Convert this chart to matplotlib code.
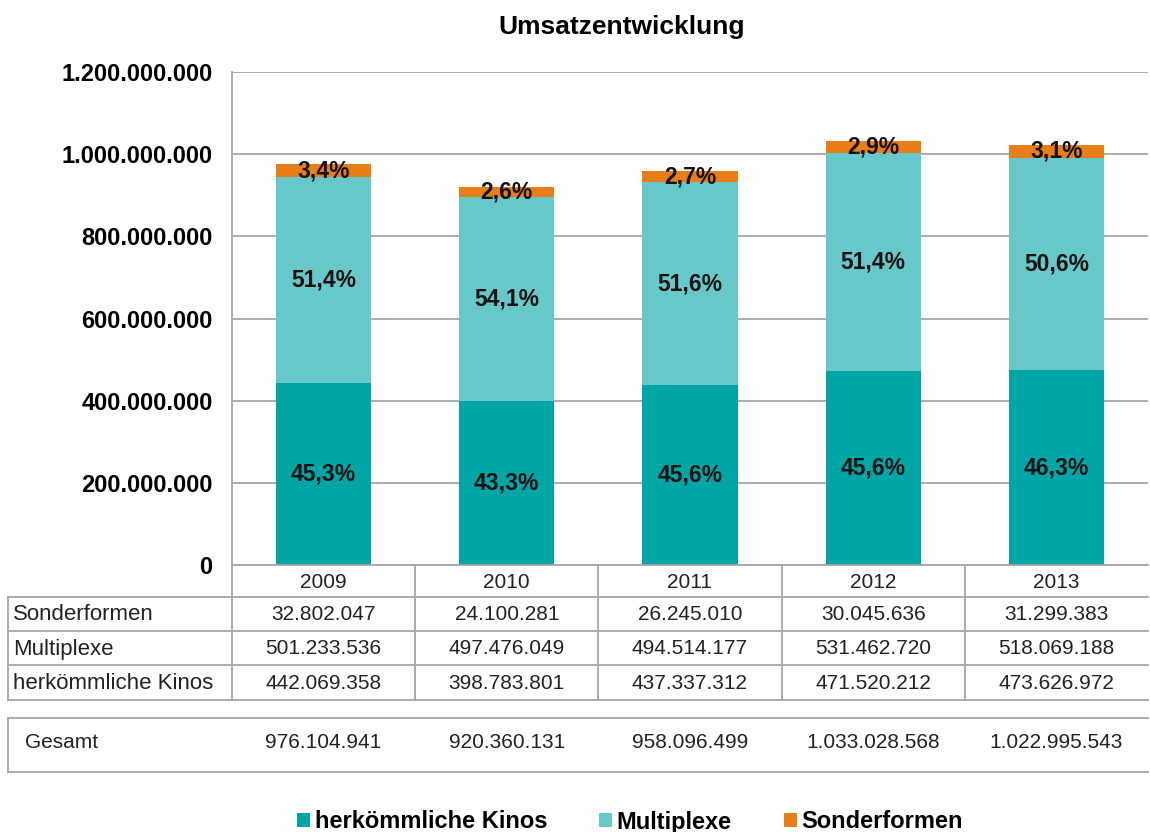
import numpy as np
import matplotlib
matplotlib.use("Agg")
import matplotlib.pyplot as plt
from matplotlib.lines import Line2D

plt.rcParams['font.family'] = ['Liberation Sans', 'DejaVu Sans']

years = ["2009", "2010", "2011", "2012", "2013"]
kinos = [442069358, 398783801, 437337312, 471520212, 473626972]
multiplexe = [501233536, 497476049, 494514177, 531462720, 518069188]
sonderformen = [32802047, 24100281, 26245010, 30045636, 31299383]
gesamt = [976104941, 920360131, 958096499, 1033028568, 1022995543]

series_names = ["herkömmliche Kinos", "Multiplexe", "Sonderformen"]
colors = ["#00A5A5", "#66C8C8", "#E97E17"]


def de_num(v):
    return "{:,.0f}".format(v).replace(",", ".")


def de_pct(v):
    return "{:.1f}%".format(v * 100).replace(".", ",")


W, H = 1150, 832
fig = plt.figure(figsize=(W / 100, H / 100), dpi=100)

# plot area in pixels
left, right, top, bottom = 232, 1148, 72, 565
ax = fig.add_axes([left / W, 1 - bottom / H, (right - left) / W, (bottom - top) / H])

x = np.arange(len(years))
kinos = np.array(kinos)
multiplexe = np.array(multiplexe)
sonderformen = np.array(sonderformen)
total = kinos + multiplexe + sonderformen

bars = []
base = np.zeros(len(years))
for vals, c in zip([kinos, multiplexe, sonderformen], colors):
    b = ax.bar(x, vals, bottom=base, width=0.52, color=c, edgecolor="none", zorder=2)
    bars.append(b)
    for xi, v, b0, t in zip(x, vals, base, total):
        ax.text(xi, b0 + v / 2, de_pct(v / t), ha="center", va="center",
                fontsize=16.5, fontweight="bold", color="#111111", zorder=3)
    base = base + vals

ax.set_xlim(-0.5, len(years) - 0.5)
ax.set_ylim(0, 1200000000)
ax.set_yticks(np.arange(0, 1200000001, 200000000))
ax.set_yticklabels([de_num(v) for v in ax.get_yticks()], fontsize=17, fontweight="bold")
ax.tick_params(axis="y", length=0, pad=14)
ax.set_xticks([])
ax.grid(axis="y", color="#A6A6A6", linewidth=1.3, zorder=0)
for s in ["top", "right", "bottom"]:
    ax.spines[s].set_visible(False)
ax.spines["left"].set_color("#A6A6A6")
ax.spines["left"].set_linewidth(1.3)

fig.text(622 / W, 1 - 27 / H, "Umsatzentwicklung", ha="center", va="center",
         fontsize=19, fontweight="bold")

# data table below the chart, pixel coordinates
tab = fig.add_axes([0, 0, 1, 1])
tab.set_xlim(0, W)
tab.set_ylim(H, 0)
tab.axis("off")
tab.patch.set_alpha(0)

lc = "#A6A6A6"
lw = 1.3
fs = 15
colw = (right - left) / len(years)
row_y = [565, 597, 631, 665, 700]
label_x0 = 8

# horizontal lines
tab.add_line(Line2D([left, right], [row_y[0], row_y[0]], color=lc, lw=lw))
for y in row_y[1:]:
    tab.add_line(Line2D([label_x0, right], [y, y], color=lc, lw=lw))
# vertical lines
tab.add_line(Line2D([label_x0, label_x0], [row_y[1], row_y[-1]], color=lc, lw=lw))
for i in range(len(years)):
    xe = left + i * colw
    tab.add_line(Line2D([xe, xe], [row_y[0], row_y[-1]], color=lc, lw=lw))

rows = [("Sonderformen", sonderformen), ("Multiplexe", multiplexe),
        ("herkömmliche Kinos", kinos)]
for i, yr in enumerate(years):
    tab.text(left + (i + 0.5) * colw, (row_y[0] + row_y[1]) / 2 + 1, yr,
             ha="center", va="center", fontsize=fs, color="#222222")
for r, (name, vals) in enumerate(rows):
    yc = (row_y[r + 1] + row_y[r + 2]) / 2 + 1
    tab.text(label_x0 + 5, yc, name, ha="left", va="center", fontsize=fs + 1,
             color="#222222")
    for i, v in enumerate(vals):
        tab.text(left + (i + 0.5) * colw, yc, de_num(v), ha="center", va="center",
                 fontsize=fs, color="#222222")

# Gesamt box
g_top, g_bot = 718, 772
tab.add_line(Line2D([label_x0, right], [g_top, g_top], color=lc, lw=lw))
tab.add_line(Line2D([label_x0, right], [g_bot, g_bot], color=lc, lw=lw))
tab.add_line(Line2D([label_x0, label_x0], [g_top, g_bot], color=lc, lw=lw))
tab.text(25, 742, "Gesamt", ha="left", va="center", fontsize=fs, color="#222222")
for i, v in enumerate(gesamt):
    tab.text(left + (i + 0.5) * colw, 742, de_num(v), ha="center", va="center",
             fontsize=fs, color="#222222")

fig.legend([b[0] for b in bars], series_names, loc="center",
           bbox_to_anchor=(630 / W, 1 - 822 / H), ncol=3, frameon=False,
           prop={"size": 17, "weight": "bold"}, handlelength=0.55, handleheight=0.55,
           handletextpad=0.2, columnspacing=2.2)

fig.savefig("out.png", dpi=100)
